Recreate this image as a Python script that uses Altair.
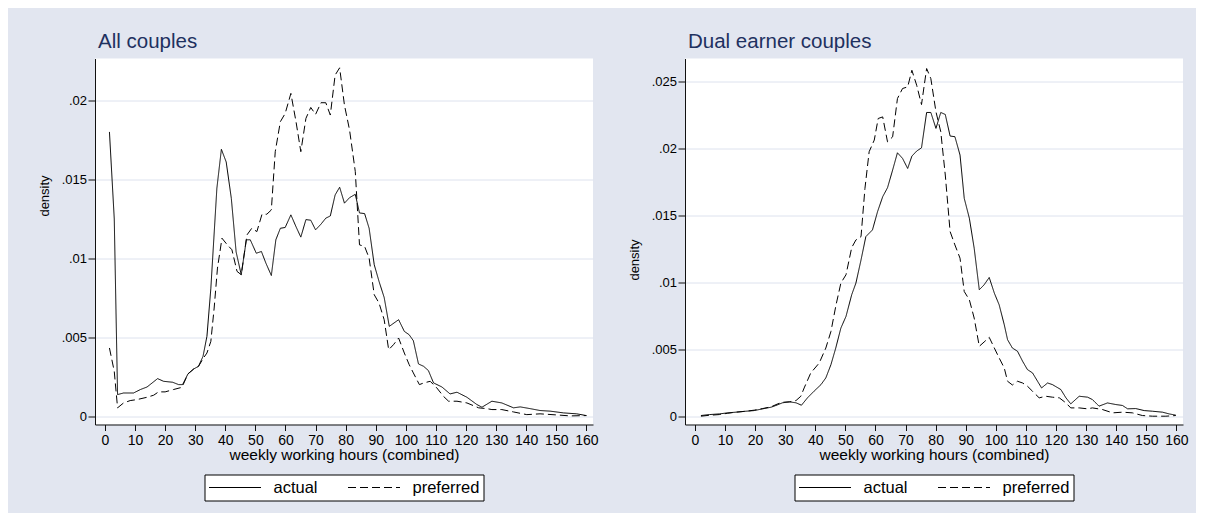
import altair as alt
import pandas as pd

# ---- data (hours, density) ----
LEFT_ACTUAL = [(1.5,.0180),(3.1,.0125),(4.2,.00137),(6.2,.00147),(9.5,.00147),(11.8,.00169),(14.0,.00185),
 (17.5,.00238),(19.5,.00221),(22.5,.00215),(24.5,.0020),(25.8,.0020),(27.6,.00268),(29.5,.00299),(31.1,.00316),
 (32.6,.00379),(33.9,.00506),(35.2,.0081),(37.2,.01443),(38.7,.0169),(40.3,.0161),(42.0,.0138),(43.6,.0104),
 (45.3,.00896),(47.0,.01117),(48.3,.01117),(50.3,.01032),(52.0,.01043),(53.5,.00969),(55.3,.00891),(56.8,.01117),
 (58.3,.0119),(59.9,.01195),(61.8,.01275),(63.5,.0120),(65.1,.01134),(66.8,.01245),(68.4,.01241),(70.0,.0118),
 (71.8,.01216),(73.4,.01254),(74.9,.01268),(76.5,.01401),(78.0,.0145),(79.6,.01349),(81.3,.01384),(83.2,.01405),
 (84.6,.01287),(86.3,.01283),(87.8,.0119),(89.5,.00959),(91.1,.00853),(92.8,.00752),(94.5,.00569),(97.6,.00611),
 (99.5,.00537),(101.1,.00516),(102.5,.00478),(104.2,.00331),(105.9,.00316),(107.5,.00289),(109.2,.00211),
 (112.0,.00185),(114.7,.00141),(117.0,.00152),(120.3,.0012),(123.6,.00074),(125.3,.00057),(128.6,.00095),
 (131.9,.00084),(135.8,.00053),(138.0,.00059),(141.3,.00048),(144.6,.00036),(148.0,.00032),(152.4,.00021),
 (156.8,.00015),(160.0,.00004)]

LEFT_PREFERRED = [(1.5,.00432),(3.1,.00284),(4.2,.00053),(6.2,.00084),(8.4,.00099),(10.6,.00105),(14.0,.0012),
 (16.2,.00133),(17.8,.00154),(20.0,.00154),(22.8,.00169),(25.6,.00183),(27.6,.00268),(29.5,.00299),(31.1,.00316),
 (32.8,.0037),(33.9,.0040),(35.2,.00474),(36.3,.00685),(37.4,.00938),(38.9,.01127),(40.5,.01089),(42.2,.01054),
 (43.9,.00917),(45.3,.00896),(47.2,.01148),(48.8,.0119),(50.5,.01169),(52.2,.01279),(53.8,.01279),(55.3,.01306),
 (56.6,.01675),(58.3,.01865),(59.9,.01917),(61.8,.02044),(63.5,.01865),(65.1,.01675),(66.8,.01886),(68.4,.01955),
 (70.0,.01911),(71.8,.01985),(73.4,.01985),(74.9,.01907),(76.5,.0216),(78.0,.02206),(79.6,.0197),(81.3,.01812),
 (83.2,.01549),(84.6,.01085),(86.3,.01075),(87.8,.01001),(89.5,.00769),(91.1,.00716),(92.8,.00611),(94.3,.00421),
 (95.9,.00453),(97.6,.00495),(99.5,.0040),(101.1,.00327),(102.5,.00274),(104.5,.0020),(106.0,.00211),
 (108.1,.00221),(110.3,.00179),(112.5,.00126),(114.2,.00095),(117.0,.00095),(120.3,.00084),(124.2,.00053),
 (126.9,.00048),(128.6,.00042),(131.9,.00042),(135.8,.00027),(140.2,.0001),(144.6,.00015),(150.2,.00008),
 (154.6,.00002),(160.0,.00004)]

RIGHT_ACTUAL = [(2.0,.00005),(4.8,.00012),(8.1,.00017),(10.9,.00025),(13.6,.0003),(16.9,.00037),(19.7,.00042),
 (22.5,.00055),(25.3,.00067),(26.9,.0008),(29.1,.0010),(31.4,.00107),(33.6,.0010),(35.4,.00082),(37.4,.00137),
 (39.6,.00187),(41.9,.00236),(43.5,.00286),(45.2,.00385),(46.8,.00509),(48.5,.00658),(50.2,.00745),(52.1,.00907),
 (53.5,.00994),(55.2,.01167),(56.8,.01341),(59.0,.01391),(60.7,.01528),(62.4,.01639),(64.0,.01706),(65.7,.01838),
 (67.3,.01967),(69.0,.01925),(70.7,.0185),(72.1,.01942),(73.7,.0198),(75.3,.02004),(77.0,.02268),(78.4,.02268),
 (80.1,.02149),(81.7,.02268),(83.2,.02253),(84.8,.02092),(86.4,.02087),(88.1,.0195),(89.5,.01627),(91.2,.01478),
 (92.8,.01255),(94.5,.00944),(96.1,.00981),(97.8,.01036),(99.5,.00919),(101.1,.00832),(102.8,.00683),
 (103.9,.00571),(105.5,.00509),(107.2,.00485),(108.9,.0041),(110.5,.00348),(112.2,.00323),(115.2,.00211),
 (117.2,.00248),(118.8,.00236),(121.6,.00199),(123.3,.00137),(124.9,.00092),(127.7,.00149),(130.5,.00142),
 (132.1,.00124),(134.3,.00075),(137.1,.00099),(139.9,.00087),(142.1,.0008),(143.8,.00055),(146.5,.00057),
 (149.3,.00042),(152.1,.00037),(155.4,.0003),(157.6,.00017),(159.8,.00008)]

RIGHT_PREFERRED = [(2.0,.0),(4.8,.00007),(8.1,.00012),(10.9,.00022),(13.6,.0003),(16.9,.00037),(19.7,.00045),
 (22.5,.00057),(25.3,.0007),(27.5,.00092),(29.1,.00104),(31.4,.00107),(33.6,.00117),(35.2,.00149),(36.3,.00211),
 (38.5,.00323),(41.3,.00397),(43.5,.00509),(45.2,.00633),(46.9,.00832),(48.5,.00994),(50.2,.01056),(52.1,.01259),
 (53.5,.01316),(55.2,.01341),(56.5,.01701),(57.9,.01975),(59.6,.02062),(60.9,.02223),(62.4,.02235),(64.0,.02049),
 (65.7,.02086),(67.3,.02372),(69.0,.02447),(70.7,.02459),(72.1,.02583),(73.7,.02471),(75.3,.02327),(77.0,.02596),
 (78.4,.02521),(80.1,.02273),(81.7,.02124),(83.2,.01801),(84.8,.01379),(86.4,.01279),(88.1,.0118),(89.5,.00931),
 (91.2,.00869),(92.8,.00733),(94.5,.00522),(96.1,.00554),(97.8,.00589),(99.5,.00509),(101.1,.00435),
 (102.8,.0036),(103.9,.00261),(105.5,.00233),(107.2,.00261),(108.9,.00248),(110.5,.00224),(112.2,.00186),
 (114.4,.00137),(116.6,.00149),(118.8,.00142),(121.1,.00137),(123.3,.00099),(124.9,.00062),(127.7,.00062),
 (130.5,.00055),(132.1,.00062),(135.4,.0005),(138.8,.00025),(142.1,.0003),(145.4,.00025),(148.7,.00005),
 (152.1,.0),(156.5,.0),(159.8,.00005)]

SERIES = ["actual", "preferred"]
X_TICKS = list(range(0, 161, 10))
LEFT_Y_TICKS = [0, 0.005, 0.01, 0.015, 0.02]
RIGHT_Y_TICKS = [0, 0.005, 0.01, 0.015, 0.02, 0.025]

FONT = "Liberation Sans"
BG = "#e2e6f0"
GRID = "#dde2ee"
TITLE_COLOR = "#1e3160"
AXIS_COLOR = "#111111"
W, H = 498, 366


def frame(actual, preferred):
    rows = []
    for name, pts in zip(SERIES, [actual, preferred]):
        for i, (h, d) in enumerate(pts):
            rows.append({"series": name, "hours": h, "density": d, "order": i})
    return pd.DataFrame(rows)


def panel(title, actual, preferred, ydom, yticks, title_y):
    df = frame(actual, preferred)
    return alt.Chart(df, title=alt.Title(
        title, anchor="start", frame="group", font=FONT, fontSize=20.5,
        fontWeight="normal", color=TITLE_COLOR, baseline="alphabetic", offset=-10, dx=3,
    )).mark_line(color="black", strokeWidth=1).encode(
        x=alt.X("hours:Q",
                scale=alt.Scale(domain=[-3.3, 162.2], nice=False, zero=False),
                axis=alt.Axis(values=X_TICKS, grid=False, title="weekly working hours (combined)",
                              labelFont=FONT, labelFontSize=14, labelColor="black",
                              labelPadding=3, tickSize=6, tickWidth=1, tickColor=AXIS_COLOR,
                              domain=True, domainWidth=1, domainColor=AXIS_COLOR,
                              titleFont=FONT, titleFontSize=15.5, titleFontWeight="normal",
                              titleColor="black", titlePadding=0, labelFlush=False)),
        y=alt.Y("density:Q",
                scale=alt.Scale(domain=ydom, nice=False, zero=False),
                axis=alt.Axis(values=yticks, grid=True, gridColor=GRID, gridWidth=1,
                              title="density",
                              labelExpr="datum.value == 0 ? '0' : replace(format(datum.value, '.3~f'), '0.', '.')",
                              labelFont=FONT, labelFontSize=13, labelColor="black",
                              labelPadding=1.5, tickSize=7, tickWidth=1, tickColor=AXIS_COLOR,
                              domain=True, domainWidth=1, domainColor=AXIS_COLOR,
                              titleFont=FONT, titleFontSize=13, titleFontWeight="normal",
                              titleColor="black", titleX=-47, titleY=title_y,
                              titleBaseline="alphabetic", labelFlush=False)),
        strokeDash=alt.StrokeDash("series:N",
                                  scale=alt.Scale(domain=SERIES, range=[[1, 0], [8, 4]]),
                                  legend=alt.Legend(title=None, orient="none", legendX=109.5, legendY=416,
                                                    direction="horizontal", columns=2,
                                                    fillColor="white", strokeColor="black", padding=4,
                                                    labelFont=FONT, labelFontSize=16.5, labelColor="black",
                                                    labelOffset=12, columnPadding=29, symbolSize=2704,
                                                    symbolType="stroke", symbolStrokeWidth=1,
                                                    symbolStrokeColor="black", clipHeight=18)),
        order="order:Q",
    ).properties(width=W, height=H)


left = panel("All couples", LEFT_ACTUAL, LEFT_PREFERRED, [-0.000525, 0.02265], LEFT_Y_TICKS, 137)
right = panel("Dual earner couples", RIGHT_ACTUAL, RIGHT_PREFERRED, [-0.00062, 0.02671], RIGHT_Y_TICKS, 201)

chart = alt.hconcat(left, right, spacing=92, bounds="flush").resolve_scale(
    strokeDash="independent").resolve_legend(strokeDash="independent").properties(
    background=BG, padding={"left": 30, "top": 23.5, "right": 7, "bottom": 11}
).configure_view(strokeWidth=0, fill="white")

chart.save("out.html", embed_options={"renderer": "svg", "actions": False})
